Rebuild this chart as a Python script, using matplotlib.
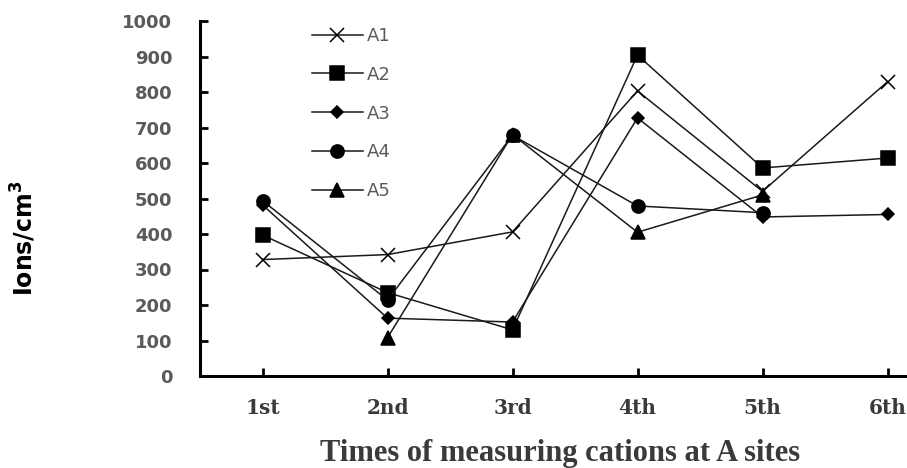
import numpy as np
import matplotlib
matplotlib.use("Agg")
import matplotlib.pyplot as plt

times = ["1st", "2nd", "3rd", "4th", "5th", "6th"]
a1 = [328, 342, 406, 803, 520, 829]
a2 = [397, 235, 130, 904, 586, 614]
a3 = [482, 163, 152, 727, 448, 455]
a4 = [494, 214, 678, 479, 460, np.nan]
a5 = [np.nan, 108, 680, 405, 510, np.nan]
series = ["A1", "A2", "A3", "A4", "A5"]
values = [a1, a2, a3, a4, a5]
y_ticks = [0, 100, 200, 300, 400, 500, 600, 700, 800, 900, 1000]

markers = {"A1": ("x", 10), "A2": ("s", 9.5), "A3": ("D", 6.5),
           "A4": ("o", 9.5), "A5": ("^", 9.5)}

W, H = 907, 468
fig = plt.figure(figsize=(W / 100, H / 100), dpi=100)
ax = fig.add_axes([200 / W, (H - 376) / H, 707 / W, 355 / H])

x = np.arange(1, len(times) + 1)
for name, vals in zip(series, values):
    m, ms = markers[name]
    y = np.asarray(vals, float)
    ok = ~np.isnan(y)
    ax.plot(x[ok], y[ok], color="#1a1a1a", lw=1.1, marker=m, ms=ms,
            mec="#000000", mfc="#000000", mew=1.1, label=name)

ax.set_xlim(0.5, 0.5 + 707 / 125)
ax.set_ylim(0, 1000)
ax.set_xticks(x)
ax.set_xticklabels(times, family="DejaVu Serif", fontweight="bold",
                   fontsize=14.5, color="#3a3a3a")
ax.set_yticks(y_ticks)
ax.set_yticklabels([str(v) for v in y_ticks], family="DejaVu Sans",
                   fontweight="bold", fontsize=13, color="#5a5a5a")

for s in ("top", "right"):
    ax.spines[s].set_visible(False)
for s in ("left", "bottom"):
    ax.spines[s].set_linewidth(2.2)
    ax.spines[s].set_color("black")
ax.tick_params(axis="both", direction="in", length=6, width=2.0, color="black")
ax.tick_params(axis="y", pad=20)
ax.tick_params(axis="x", pad=16)

fig.text(560 / W, 1 - 453 / H, "Times of measuring cations at A sites",
         ha="center", va="center", family="Liberation Serif",
         fontweight="bold", fontsize=22, color="#3a3a3a")
fig.text(24 / W, 1 - 238 / H, "Ions/cm$^{\\mathbf{3}}$", ha="center",
         va="center", rotation=90, family="DejaVu Sans", fontweight="bold",
         fontsize=17, color="black")

leg = ax.legend(loc="upper left", bbox_to_anchor=(312 / W, 1 - 27 / H),
                bbox_transform=fig.transFigure, frameon=False,
                handlelength=2.8, handletextpad=0.25, labelspacing=1.15,
                borderpad=0, borderaxespad=0, numpoints=1,
                prop={"family": "DejaVu Sans", "size": 13})
for t in leg.get_texts():
    t.set_color("#5a5a5a")

fig.savefig("out.png", dpi=100)
